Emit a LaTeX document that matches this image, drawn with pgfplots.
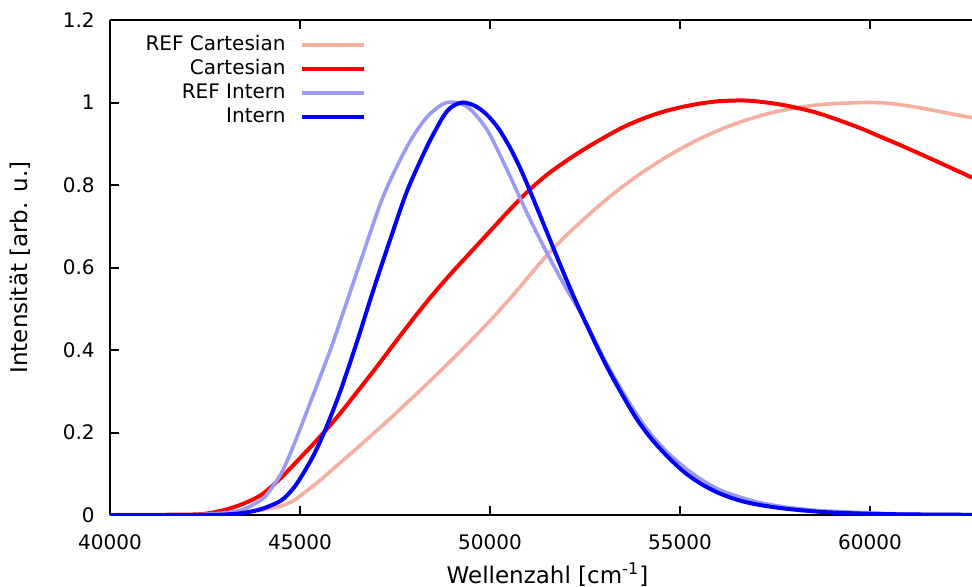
\documentclass[border=0pt]{standalone}
\usepackage{fontspec}
\setmainfont{DejaVu Sans}
\usepackage{pgfplots}
\pgfplotsset{compat=1.18}
\definecolor{refcart}{RGB}{245,175,160}
\definecolor{refint}{RGB}{155,155,245}
\begin{document}
\begin{tikzpicture}
\begin{axis}[
  name=ax, at={(0,0)}, anchor=south west,
  scale only axis, width=431pt, height=247.5pt,
  xmin=40000, xmax=62684, ymin=0, ymax=1.2,
  axis x line*=box, axis y line*=left,
  xtick={40000,45000,50000,55000,60000},
  ytick={0,0.2,0.4,0.6,0.8,1,1.2},
  xtick pos=both, ytick pos=left,
  tick align=inside, major tick length=4.5pt,
  axis line style={line width=1pt, black},
  tick style={line width=1pt, black},
  /pgf/number format/assume math mode=true,
  /pgf/number format/1000 sep={},
  scaled x ticks=false,
  xticklabel style={inner sep=0pt, anchor=north, yshift=-9.5pt, font=\fontsize{10}{12}\selectfont},
  yticklabel style={inner sep=0pt, anchor=east, xshift=-7.5pt, font=\fontsize{10}{12}\selectfont},
  xlabel={Wellenzahl [cm\textsuperscript{-1}]},
  ylabel={Intensität [arb. u.]},
  xlabel style={at={(axis description cs:0.5075,0)}, anchor=base, inner sep=0pt, yshift=-34pt, font=\fontsize{11.5}{13}\selectfont},
  ylabel style={at={(axis description cs:-0.1044,0.5)}, anchor=center, inner sep=0pt, font=\fontsize{11.5}{13}\selectfont},
  legend plot pos=right,
  legend cell align=right,
  legend image code/.code={\draw[#1] (0pt,0pt) -- (31pt,0pt);},
  legend style={draw=none, fill=none, at={(0.298,0.97)}, anchor=north east,
    inner sep=0pt, row sep=2pt, column sep=7.5pt,
    nodes={inner sep=0pt, text height=7.5pt, text depth=2.5pt}},
]
\addplot[refcart, line width=1.8pt, smooth] table {
40000 0
42500 0
43000 0.002
43500 0.006
44000 0.012
44500 0.022
44816 0.034
45000 0.046
45500 0.082
46000 0.122
46500 0.162
47000 0.203
47500 0.245
48000 0.288
48500 0.332
49000 0.377
49500 0.423
50000 0.471
50500 0.522
51000 0.576
51500 0.63
52000 0.677
52500 0.72
53000 0.76
53500 0.797
54000 0.83
54500 0.86
55000 0.887
55500 0.911
56000 0.932
56500 0.95
57000 0.965
57500 0.977
58000 0.986
58500 0.993
59000 0.997
59500 0.999
60000 1.0
60500 0.998
61000 0.992
61500 0.984
62000 0.975
62684 0.963
};
\addlegendentry{REF Cartesian}
\addplot[red, line width=2pt, smooth] table {
40000 0
42000 0.001
42500 0.003
43000 0.012
43500 0.027
44000 0.05
44500 0.09
45000 0.138
45500 0.187
46000 0.24
46500 0.298
47000 0.357
47500 0.418
48000 0.478
48500 0.535
49000 0.588
49500 0.638
50000 0.688
50500 0.738
51000 0.785
51500 0.825
52000 0.858
52500 0.888
53000 0.915
53500 0.94
54000 0.96
54500 0.976
55000 0.988
55500 0.997
56000 1.003
56579 1.005
57000 1.003
57711 0.994
58605 0.975
59658 0.941
60200 0.92
60790 0.897
61400 0.872
62000 0.847
62684 0.818
};
\addlegendentry{Cartesian}
\addplot[refint, line width=1.8pt, smooth] table {
40000 0
42000 0
42500 0.002
43000 0.005
43500 0.013
44000 0.038
44210 0.06
44500 0.1
44816 0.165
45342 0.29
45790 0.398
46053 0.468
46579 0.611
47184 0.771
47816 0.893
48342 0.965
48868 1.0
49395 0.99
49921 0.934
50447 0.837
50974 0.732
51500 0.635
52000 0.55
52447 0.48
53079 0.365
53763 0.258
54200 0.20
54658 0.153
55100 0.117
55526 0.088
56000 0.063
56395 0.049
57000 0.032
57711 0.02
58500 0.012
59026 0.009
60000 0.005
61000 0.002
62684 0.001
};
\addlegendentry{REF Intern}
\addplot[blue, line width=2pt, smooth] table {
40000 0
42500 0
43000 0.001
43500 0.005
44000 0.015
44500 0.035
44800 0.062
45000 0.088
45342 0.142
45658 0.205
46053 0.298
46500 0.42
46842 0.52
47105 0.594
47400 0.675
47816 0.785
48342 0.893
48763 0.965
49000 0.99
49290 1.0
49600 0.992
49900 0.972
50200 0.94
50500 0.895
50800 0.84
51100 0.775
51500 0.685
52000 0.573
52447 0.48
53079 0.359
53763 0.247
54200 0.19
54658 0.143
55100 0.105
55526 0.077
56000 0.054
56500 0.037
57000 0.026
57711 0.016
58500 0.009
59026 0.006
60000 0.003
61000 0.0015
62684 0.0005
};
\addlegendentry{Intern}
\end{axis}
\pgfresetboundingbox
\path[use as bounding box] (-55pt,-35.5pt) rectangle (431pt,257.5pt);
\end{tikzpicture}
\end{document}
